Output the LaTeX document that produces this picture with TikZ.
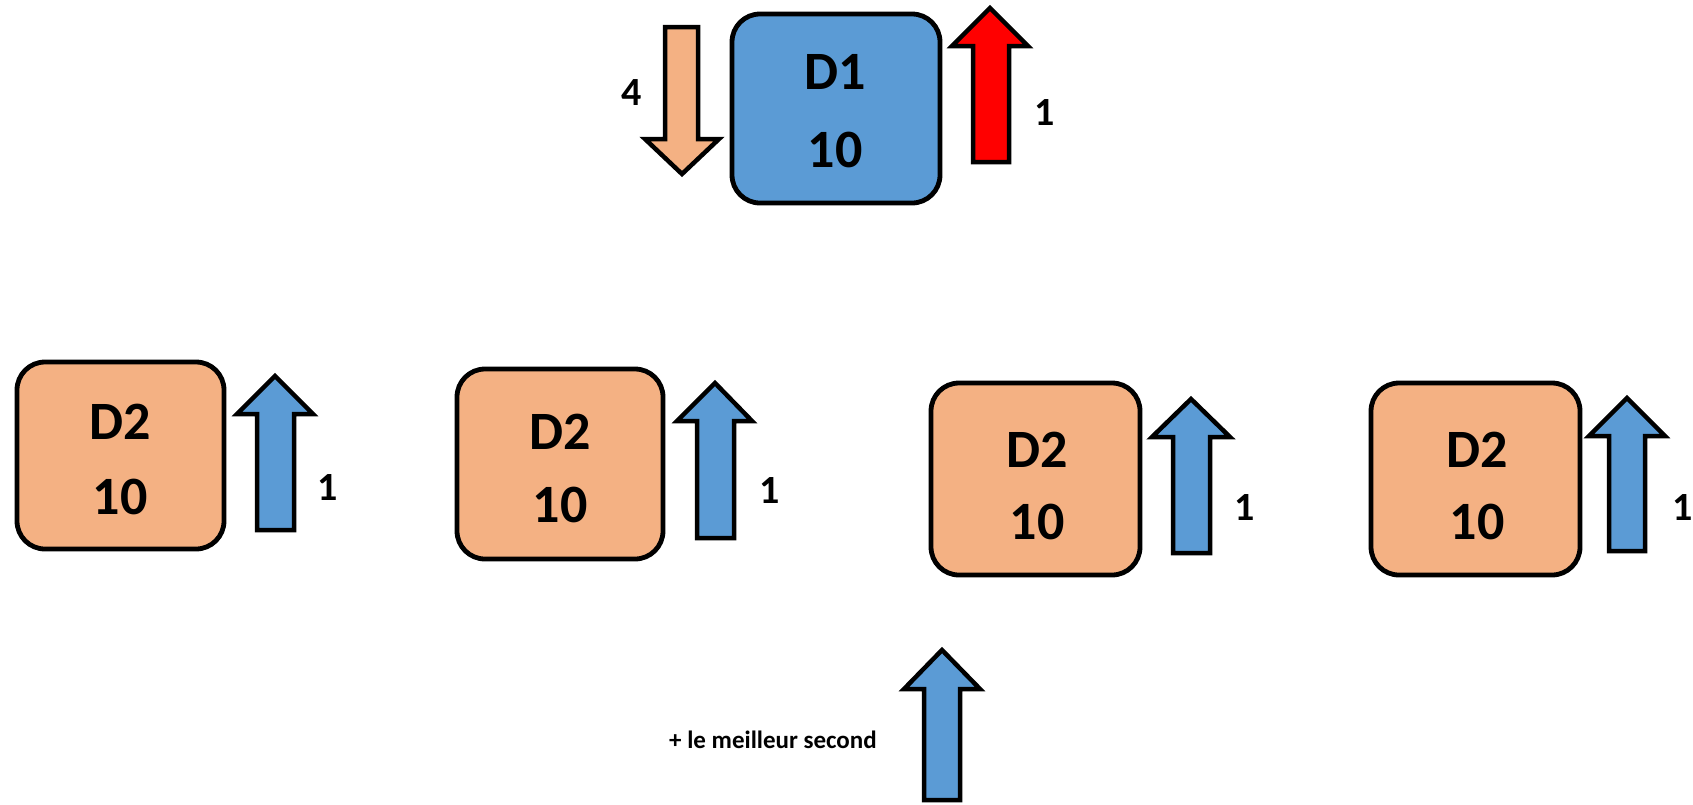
\documentclass[tikz,border=0pt]{standalone}
\usepackage{fontspec}
\setmainfont{Carlito}
\definecolor{blueD}{HTML}{5B9BD5}
\definecolor{orangeD}{HTML}{F4B183}
\definecolor{redD}{HTML}{FF0000}
\begin{document}
\begin{tikzpicture}[x=1pt,y=-1pt,
  box/.style={draw=black, line width=4.8pt, rounded corners=28pt, inner sep=0pt},
  arr/.style={draw=black, line width=4.5pt, line join=miter},
  big/.style={inner sep=0pt, font=\bfseries\fontsize{54}{60}\selectfont},
  num/.style={inner sep=0pt, font=\bfseries\fontsize{40}{44}\selectfont},
  small/.style={inner sep=0pt, font=\bfseries\fontsize{25}{28}\selectfont}]
\useasboundingbox (0,0) rectangle (1693,804);

% D1
\node[box, fill=blueD, minimum width=208pt, minimum height=189pt] (d1) at (836,108.5) {};
\node[big] (d1a) at (835,72) {D1};
\node[big] (d1b) at (835,150) {10};

% orange down arrow
\draw[arr, fill=orangeD] (665,27) -- (698,27) -- (698,139) -- (719,139) -- (682,174) -- (645,139) -- (665,139) -- cycle;
\node[num] (l4) at (632,93) {4};
% red up arrow
\draw[arr, fill=redD] (973,162) -- (973,46) -- (952,46) -- (990,8) -- (1028,46) -- (1009,46) -- (1009,162) -- cycle;
\node[num] (lr) at (1045,113) {1};

% D2 boxes
\node[box, fill=orangeD, minimum width=207pt, minimum height=187pt] (b1) at (120.5,455.5) {};
\node[big] (b1a) at (120,422) {D2};
\node[big] (b1b) at (120,497) {10};
\node[box, fill=orangeD, minimum width=206pt, minimum height=190pt] (b2) at (560,464) {};
\node[big] (b2a) at (560,432) {D2};
\node[big] (b2b) at (560,505) {10};
\node[box, fill=orangeD, minimum width=209pt, minimum height=192pt] (b3) at (1035.5,479) {};
\node[big] (b3a) at (1037,450) {D2};
\node[big] (b3b) at (1037,522) {10};
\node[box, fill=orangeD, minimum width=209pt, minimum height=192pt] (b4) at (1475.5,479) {};
\node[big] (b4a) at (1477,450) {D2};
\node[big] (b4b) at (1477,522) {10};

% blue up arrows
\draw[arr, fill=blueD] (257,530) -- (257,414) -- (237,414) -- (275,376) -- (313,414) -- (294,414) -- (294,530) -- cycle;
\node[num] (n1) at (328,487) {1};
\draw[arr, fill=blueD] (697,538) -- (697,421) -- (677,421) -- (715,383) -- (752,421) -- (734,421) -- (734,538) -- cycle;
\node[num] (n2) at (770,490) {1};
\draw[arr, fill=blueD] (1173,553) -- (1173,437) -- (1152,437) -- (1191,399) -- (1230,437) -- (1210,437) -- (1210,553) -- cycle;
\node[num] (n3) at (1245,507) {1};
\draw[arr, fill=blueD] (1609,551) -- (1609,436) -- (1589,436) -- (1627,398) -- (1665,436) -- (1645,436) -- (1645,551) -- cycle;
\node[num] (n4) at (1683,507) {1};

% bottom arrow
\draw[arr, fill=blueD] (924,800) -- (924,689) -- (904,689) -- (942,650) -- (980,689) -- (960,689) -- (960,800) -- cycle;
\node[small] (ms) at (773,740) {+ le meilleur second};
\end{tikzpicture}
\end{document}
